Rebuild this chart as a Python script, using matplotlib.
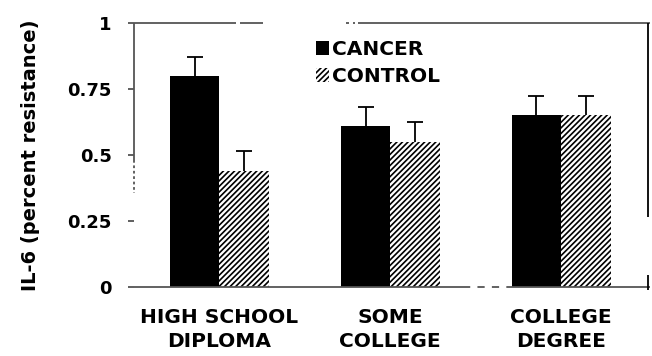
import matplotlib
matplotlib.use("Agg")
import matplotlib.pyplot as plt
from matplotlib.patches import Patch
import numpy as np

categories = ["HIGH SCHOOL\nDIPLOMA", "SOME\nCOLLEGE", "COLLEGE\nDEGREE"]
cancer = [0.80, 0.61, 0.65]
cancer_err = [0.07, 0.07, 0.075]
control = [0.44, 0.55, 0.65]
control_err = [0.075, 0.075, 0.075]
yticks = [0, 0.25, 0.5, 0.75, 1]
ytick_labels = ["0", "0.25", "0.5", "0.75", "1"]

plt.rcParams["font.family"] = "DejaVu Sans"
plt.rcParams["font.weight"] = "bold"
plt.rcParams["hatch.linewidth"] = 1.2

fig = plt.figure(figsize=(6.52, 3.56), dpi=100)
ax = fig.add_axes([134 / 652, 1 - 287 / 356, 516 / 652, 264 / 356])

x = np.arange(len(categories))
w = 0.29
ax.bar(x - w / 2, cancer, w, color="black", edgecolor="black", linewidth=0)
ax.bar(x + w / 2, control, w, color="white", edgecolor="black", linewidth=0, hatch="//////")


def upper_errorbars(xpos, vals, errs):
    # one-sided error bars: stem plus an upper cap only
    _, caps, _ = ax.errorbar(xpos, vals, yerr=[np.zeros(len(vals)), errs], fmt="none",
                             ecolor="black", elinewidth=1.3, capsize=6, capthick=1.3)
    caps[0].set_visible(False)


upper_errorbars(x - w / 2, cancer, cancer_err)
upper_errorbars(x + w / 2, control, control_err)

ax.set_xlim(-0.5, 2.52)
ax.set_ylim(0, 1)
ax.set_yticks(yticks)
ax.set_yticklabels(ytick_labels, fontsize=13, fontweight="bold")
ax.set_xticks(x)
ax.set_xticklabels(categories, fontsize=14.5, fontweight="bold", linespacing=1.35)
ax.tick_params(axis="x", length=0, pad=15)
ax.tick_params(axis="y", length=4, width=1.2, color="#444444", pad=12)
ax.set_ylabel("IL-6 (percent resistance)", fontsize=14, fontweight="bold")
ax.yaxis.set_label_coords(-0.182, 0.5)

# worn-looking frame drawn as separate segments (axes-fraction coordinates)
for s in ax.spines.values():
    s.set_visible(False)
gray = "#555555"
frame = [
    # (xs, ys, colour, linestyle)
    ([0.0, 0.198], [1, 1], gray, "-"),
    ([0.205, 0.25], [1, 1], gray, "-"),
    ([0.410, 0.416], [1, 1], gray, "-"),
    ([0.424, 0.428], [1, 1], gray, "-"),
    ([0.434, 1.0], [1, 1], gray, "-"),
    ([0, 0], [1.0, 0.481], gray, "-"),
    ([0, 0], [0.481, 0.356], gray, (0, (1.5, 1.5))),
    ([0.0, 0.638], [0, 0], gray, "-"),
    ([0.638, 0.729], [0, 0], gray, (0, (4, 4))),
    ([0.729, 1.0], [0, 0], gray, "-"),
    ([0.996, 0.996], [1.0, 0.265], "black", "-"),
    ([0.996, 0.996], [0.045, -0.01], "black", "-"),
]
for xs, ys, c, ls in frame:
    ax.plot(xs, ys, color=c, lw=1.3, ls=ls, transform=ax.transAxes, clip_on=False,
            solid_capstyle="butt", zorder=3)

handles = [Patch(facecolor="black", edgecolor="black", linewidth=0),
           Patch(facecolor="white", edgecolor="black", linewidth=0, hatch="//////")]
leg = ax.legend(handles, ["CANCER", "CONTROL"], loc="upper left", bbox_to_anchor=(0.352, 0.935),
                frameon=False, fontsize=14.5, handlelength=0.65, handleheight=0.65,
                handletextpad=0.15, labelspacing=0.4, borderaxespad=0, borderpad=0)
for t in leg.get_texts():
    t.set_fontweight("bold")

fig.savefig("out.png", dpi=100)
